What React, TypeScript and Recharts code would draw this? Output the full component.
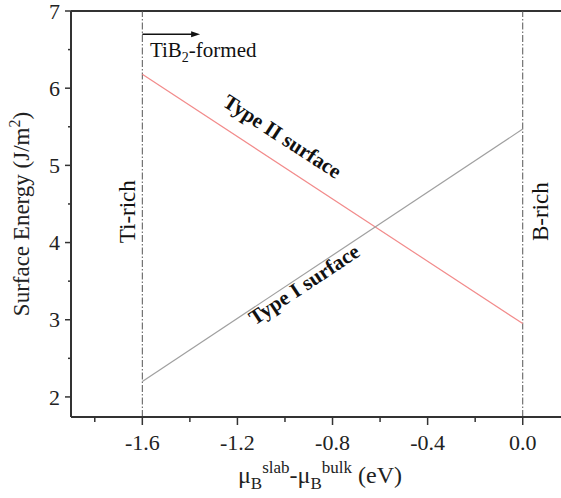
import React from 'react';
import { LineChart, Line, XAxis, YAxis, ReferenceLine, ReferenceDot } from 'recharts';

const FONT = '"Liberation Serif", "Times New Roman", serif';

// chemical potential difference (eV) at the two limits
const muB = [-1.6, 0.0];
const typeI = [2.2, 5.47];
const typeII = [6.18, 2.95];

const xMajor = [-1.6, -1.2, -0.8, -0.4, 0.0];
const xMinor = [-1.8, -1.4, -1.0, -0.6, -0.2];
const yMajor = [2, 3, 4, 5, 6, 7];
const yMinor = [2.5, 3.5, 4.5, 5.5, 6.5];

const limits = [-1.6, 0.0];
const arrow = { from: -1.6, to: -1.357, y: 6.7 };

const data = muB.map((x, i) => ({ x, typeI: typeI[i], typeII: typeII[i] }));

const isMajor = (v: number, list: number[]) => list.some((m) => Math.abs(m - v) < 1e-6);

function XTick(props: any) {
  const { x, y, payload } = props;
  const major = isMajor(payload.value, xMajor);
  return (
    <g>
      <line x1={x} x2={x} y1={y} y2={y + (major ? 8 : 5)} stroke="#333" strokeWidth={1.5} />
      {major && (
        <text x={x} y={y + 33} textAnchor="middle" fontFamily={FONT} fontSize={22} fill="#222">
          {payload.value.toFixed(1)}
        </text>
      )}
    </g>
  );
}

function YTick(props: any) {
  const { x, y, payload } = props;
  const major = isMajor(payload.value, yMajor);
  return (
    <g>
      <line x1={x} x2={x - (major ? 6 : 3)} y1={y} y2={y} stroke="#333" strokeWidth={1.5} />
      {major && (
        <text x={x - 11} y={y} dy="0.35em" textAnchor="end" fontFamily={FONT} fontSize={22} fill="#222">
          {payload.value}
        </text>
      )}
    </g>
  );
}

function YLabel(props: any) {
  const vb = props.viewBox;
  const cx = vb.x + 28;
  const cy = vb.y + vb.height / 2;
  return (
    <text x={cx} y={cy} transform={`rotate(-90 ${cx} ${cy})`} textAnchor="middle" fontFamily={FONT} fontSize={23} fill="#222">
      Surface Energy (J/m<tspan dy={-9} fontSize={16}>2</tspan><tspan dy={9}>)</tspan>
    </text>
  );
}

function XLabel(props: any) {
  const vb = props.viewBox;
  const cx = vb.x + vb.width / 2 + 4;
  const cy = vb.y + 66;
  return (
    <text x={cx} y={cy} textAnchor="middle" fontFamily={FONT} fontSize={24} fill="#222">
      μ<tspan dy={6} fontSize={17}>B</tspan>
      <tspan dy={-16} fontSize={17}>slab</tspan>
      <tspan dy={10}>-μ</tspan>
      <tspan dy={6} fontSize={17}>B</tspan>
      <tspan dy={-16} fontSize={17}>bulk</tspan>
      <tspan dy={10}> (eV)</tspan>
    </text>
  );
}

const textAt = (content: React.ReactNode, opts: { anchor?: string; rotate?: number; bold?: boolean; size?: number }) =>
  (p: any) => (
    <text
      x={p.cx}
      y={p.cy}
      dy={opts.rotate !== undefined ? '0.35em' : 0}
      textAnchor={opts.anchor || 'middle'}
      transform={opts.rotate !== undefined ? `rotate(${opts.rotate} ${p.cx} ${p.cy})` : undefined}
      fontFamily={FONT}
      fontWeight={opts.bold ? 'bold' : 'normal'}
      fontSize={opts.size || 21}
      fill="#111"
    >
      {content}
    </text>
  );

export default function App() {
  return (
    <div style={{ position: 'absolute', left: 0, top: 0, width: 561, height: 498, overflow: 'hidden', background: '#fff' }}>
      <LineChart width={561} height={498} data={data} margin={{ top: 11, right: 0, bottom: 0, left: 1 }}>
        <XAxis
          type="number"
          dataKey="x"
          domain={[-1.9, 0.161]}
          allowDataOverflow
          ticks={[...xMinor, ...xMajor].sort((a, b) => a - b)}
          interval={0}
          height={81}
          tickSize={0}
          tickMargin={0}
          tickLine={false}
          tick={<XTick />}
          axisLine={{ stroke: '#333', strokeWidth: 2 }}
          label={<XLabel />}
        />
        <YAxis
          type="number"
          domain={[1.74, 7]}
          allowDataOverflow
          ticks={[...yMinor, ...yMajor].sort((a, b) => a - b)}
          interval={0}
          width={70}
          tickSize={0}
          tickMargin={0}
          tickLine={false}
          tick={<YTick />}
          axisLine={{ stroke: '#333', strokeWidth: 2 }}
          label={<YLabel />}
        />
        <ReferenceLine y={7} stroke="#333" strokeWidth={2} />
        {limits.map((l) => (
          <ReferenceLine key={l} x={l} stroke="#555" strokeWidth={1} strokeDasharray="7 2 1.5 2" />
        ))}
        <Line type="linear" dataKey="typeII" stroke="#f28b8b" strokeWidth={1.2} dot={false} isAnimationActive={false} />
        <Line type="linear" dataKey="typeI" stroke="#a0a0a0" strokeWidth={1.2} dot={false} isAnimationActive={false} />
        <ReferenceLine
          segment={[{ x: arrow.from, y: arrow.y }, { x: arrow.to - 0.03, y: arrow.y }]}
          stroke="#111"
          strokeWidth={1.5}
        />
        <ReferenceDot
          x={arrow.to}
          y={arrow.y}
          r={1}
          shape={(p: any) => (
            <polygon points={`${p.cx},${p.cy} ${p.cx - 9},${p.cy - 3} ${p.cx - 9},${p.cy + 3}`} fill="#111" />
          )}
        />
        <ReferenceDot
          x={-1.568}
          y={6.4}
          r={1}
          shape={textAt(<>TiB<tspan dy={5} fontSize={14}>2</tspan><tspan dy={-5}>-formed</tspan></>, { anchor: 'start' })}
        />
        <ReferenceDot x={-1.664} y={4.4} r={1} shape={textAt('Ti-rich', { rotate: -90, size: 23 })} />
        <ReferenceDot x={0.073} y={4.4} r={1} shape={textAt('B-rich', { rotate: -90, size: 23 })} />
        <ReferenceDot x={-1.01} y={5.38} r={1} shape={textAt('Type II surface', { rotate: 33, bold: true, size: 21 })} />
        <ReferenceDot x={-0.92} y={3.46} r={1} shape={textAt('Type I surface', { rotate: -33.5, bold: true, size: 21 })} />
      </LineChart>
    </div>
  );
}
